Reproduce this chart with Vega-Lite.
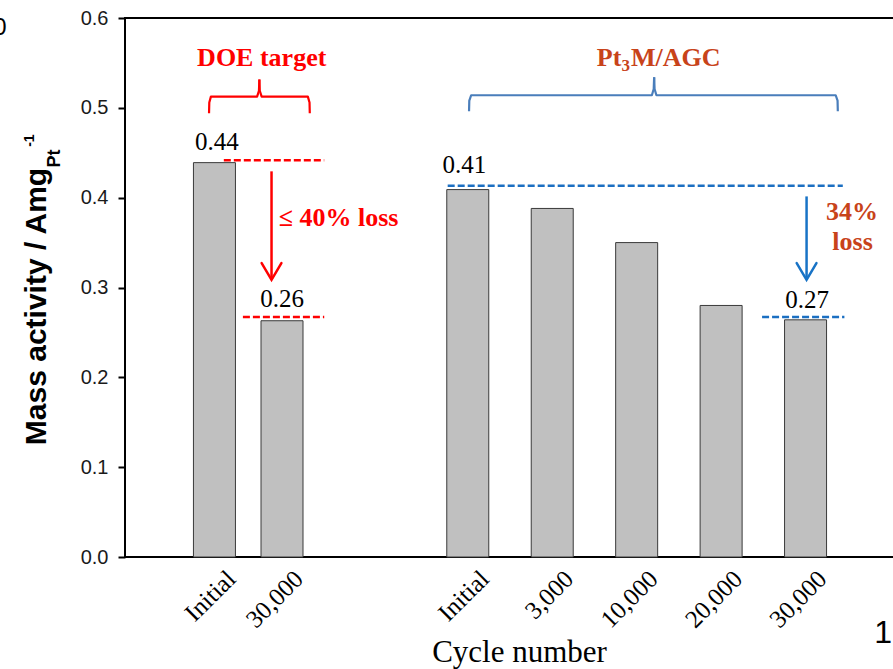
{
  "$schema": "https://vega.github.io/schema/vega-lite/v6.json",
  "autosize": {"type": "none"},
  "padding": {"left": 125, "top": 18, "right": 0, "bottom": 112},
  "width": 770,
  "height": 539,
  "background": "white",
  "config": {
    "view": {"stroke": "black", "strokeWidth": 2},
    "text": {"font": "Liberation Serif"}
  },
  "datasets": {
    "bars": [
      {"group": "DOE", "cycle": "Initial", "slot": 1, "value": 0.439},
      {"group": "DOE", "cycle": "30,000", "slot": 1.8, "value": 0.263},
      {"group": "Pt3M/AGC", "cycle": "Initial", "slot": 4, "value": 0.409},
      {"group": "Pt3M/AGC", "cycle": "3,000", "slot": 5, "value": 0.388},
      {"group": "Pt3M/AGC", "cycle": "10,000", "slot": 6, "value": 0.35},
      {"group": "Pt3M/AGC", "cycle": "20,000", "slot": 7, "value": 0.28},
      {"group": "Pt3M/AGC", "cycle": "30,000", "slot": 8, "value": 0.264}
    ],
    "valueLabels": [
      {"text": "0.44", "x": 1.03, "y": 0.4535},
      {"text": "0.26", "x": 1.8, "y": 0.2782},
      {"text": "0.41", "x": 3.96, "y": 0.4275},
      {"text": "0.27", "x": 8.02, "y": 0.2771}
    ],
    "dashes": [
      {"group": "DOE", "x": 1.111, "x2": 2.3, "y": 0.4416},
      {"group": "DOE", "x": 1.337, "x2": 2.3, "y": 0.2671},
      {"group": "Pt", "x": 3.762, "x2": 8.441, "y": 0.4134},
      {"group": "Pt", "x": 7.485, "x2": 8.46, "y": 0.2671}
    ],
    "shafts": [
      {"group": "DOE", "x": 1.676, "y": 0.4293, "y2": 0.309},
      {"group": "Pt", "x": 8.012, "y": 0.4014, "y2": 0.309}
    ],
    "heads": [
      {"group": "DOE", "i": 1, "x": 1.559, "y": 0.3272},
      {"group": "DOE", "i": 2, "x": 1.676, "y": 0.3086},
      {"group": "DOE", "i": 3, "x": 1.793, "y": 0.3272},
      {"group": "Pt", "i": 1, "x": 7.895, "y": 0.3272},
      {"group": "Pt", "i": 2, "x": 8.012, "y": 0.3086},
      {"group": "Pt", "i": 3, "x": 8.129, "y": 0.3272}
    ],
    "brackets": [
      {"group": "DOE", "part": "DOE-L", "i": 1, "x": 0.936, "y": 0.494},
      {"group": "DOE", "part": "DOE-L", "i": 2, "x": 0.939, "y": 0.506},
      {"group": "DOE", "part": "DOE-L", "i": 3, "x": 0.958, "y": 0.5125},
      {"group": "DOE", "part": "DOE-L", "i": 4, "x": 1.505, "y": 0.5125},
      {"group": "DOE", "part": "DOE-L", "i": 5, "x": 1.527, "y": 0.519},
      {"group": "DOE", "part": "DOE-L", "i": 6, "x": 1.532, "y": 0.5315},
      {"group": "DOE", "part": "DOE-R", "i": 1, "x": 1.532, "y": 0.5315},
      {"group": "DOE", "part": "DOE-R", "i": 2, "x": 1.537, "y": 0.519},
      {"group": "DOE", "part": "DOE-R", "i": 3, "x": 1.559, "y": 0.5125},
      {"group": "DOE", "part": "DOE-R", "i": 4, "x": 2.106, "y": 0.5125},
      {"group": "DOE", "part": "DOE-R", "i": 5, "x": 2.126, "y": 0.506},
      {"group": "DOE", "part": "DOE-R", "i": 6, "x": 2.129, "y": 0.494},
      {"group": "Pt", "part": "Pt-L", "i": 1, "x": 4.015, "y": 0.4962},
      {"group": "Pt", "part": "Pt-L", "i": 2, "x": 4.018, "y": 0.508},
      {"group": "Pt", "part": "Pt-L", "i": 3, "x": 4.04, "y": 0.514},
      {"group": "Pt", "part": "Pt-L", "i": 4, "x": 6.18, "y": 0.514},
      {"group": "Pt", "part": "Pt-L", "i": 5, "x": 6.202, "y": 0.521},
      {"group": "Pt", "part": "Pt-L", "i": 6, "x": 6.207, "y": 0.534},
      {"group": "Pt", "part": "Pt-R", "i": 1, "x": 6.207, "y": 0.534},
      {"group": "Pt", "part": "Pt-R", "i": 2, "x": 6.212, "y": 0.521},
      {"group": "Pt", "part": "Pt-R", "i": 3, "x": 6.234, "y": 0.514},
      {"group": "Pt", "part": "Pt-R", "i": 4, "x": 8.357, "y": 0.514},
      {"group": "Pt", "part": "Pt-R", "i": 5, "x": 8.379, "y": 0.508},
      {"group": "Pt", "part": "Pt-R", "i": 6, "x": 8.382, "y": 0.4962}
    ],
    "doeNotes": [
      {"text": "DOE target", "x": 1.56, "y": 0.5463},
      {"text": "≤ 40% loss", "x": 2.47, "y": 0.3688}
    ],
    "ptNotes": [
      {"text": "Pt", "x": 5.673, "y": 0.5463},
      {"text": "M/AGC", "x": 6.462, "y": 0.5463},
      {"text": "34%", "x": 8.55, "y": 0.3755},
      {"text": "loss", "x": 8.557, "y": 0.342}
    ],
    "ptSub": [
      {"text": "3", "x": 5.871, "y": 0.5415}
    ],
    "titleSub": [
      {"text": "Pt", "x": -0.83, "y": 0.4435}
    ],
    "titleSup": [
      {"text": "-1", "x": -1.14, "y": 0.4635}
    ],
    "pageNumber": [
      {"text": "1", "x": 8.92, "y": -0.0955}
    ],
    "edgeText": [
      {"text": "0", "x": -1.54, "y": 0.5816}
    ]
  },
  "layer": [
    {
      "data": {"name": "bars"},
      "mark": {"type": "bar", "size": 42, "fill": "#c0c0c0", "stroke": "#3a3a3a", "strokeWidth": 1},
      "encoding": {
        "x": {
          "field": "slot", "type": "quantitative",
          "scale": {"domain": [0, 9], "nice": false, "zero": false},
          "axis": {
            "values": [1, 1.8, 4, 5, 6, 7, 8],
            "labelExpr": "datum.value == 1 || datum.value == 4 ? 'Initial' : datum.value == 5 ? '3,000' : datum.value == 6 ? '10,000' : datum.value == 7 ? '20,000' : '30,000'",
            "labelAngle": -45,
            "labelFont": "Liberation Serif",
            "labelFontSize": 25,
            "labelColor": "black",
            "labelPadding": 9,
            "labelOffset": 8,
            "ticks": false,
            "domain": false,
            "grid": false,
            "title": "Cycle number",
            "titleFont": "Liberation Serif",
            "titleFontSize": 31,
            "titleFontWeight": "normal",
            "titleColor": "black",
            "titleX": 394,
            "titleY": 104,
            "titleBaseline": "alphabetic",
            "titleAnchor": "start",
            "titleAlign": "center"
          }
        },
        "y": {
          "field": "value", "type": "quantitative",
          "scale": {"domain": [0, 0.6], "nice": false, "zero": true},
          "axis": {
            "values": [0, 0.1, 0.2, 0.3, 0.4, 0.5, 0.6],
            "format": ".1f",
            "labelFont": "Liberation Sans",
            "labelFontSize": 20,
            "labelColor": "#1a1a1a",
            "labelPadding": 10,
            "tickSize": 7,
            "tickWidth": 2,
            "tickColor": "black",
            "domain": false,
            "grid": false,
            "title": "Mass activity / Amg",
            "titleFont": "Liberation Sans",
            "titleFontSize": 30,
            "titleFontWeight": "bold",
            "titleColor": "black",
            "titleAngle": 270,
            "titleX": -80,
            "titleY": 288,
            "titleAlign": "center",
            "titleAnchor": "start",
            "titleBaseline": "alphabetic"
          }
        }
      }
    },
    {
      "data": {"name": "dashes"},
      "mark": {"type": "rule", "strokeWidth": 2.5, "strokeDash": [7, 3]},
      "encoding": {
        "x": {"field": "x", "type": "quantitative", "scale": {"domain": [0, 9]}},
        "x2": {"field": "x2"},
        "y": {"field": "y", "type": "quantitative", "scale": {"domain": [0, 0.6]}},
        "color": {"condition": {"test": "datum.group === 'DOE'", "value": "#ff0000"}, "value": "#1b6fc2"}
      }
    },
    {
      "data": {"name": "shafts"},
      "mark": {"type": "rule", "strokeWidth": 2.5},
      "encoding": {
        "x": {"field": "x", "type": "quantitative", "scale": {"domain": [0, 9]}},
        "y": {"field": "y", "type": "quantitative", "scale": {"domain": [0, 0.6]}},
        "y2": {"field": "y2"},
        "color": {"condition": {"test": "datum.group === 'DOE'", "value": "#ff0000"}, "value": "#1873c6"}
      }
    },
    {
      "data": {"name": "heads"},
      "mark": {"type": "line", "strokeWidth": 2.5, "strokeCap": "round", "strokeJoin": "miter"},
      "encoding": {
        "x": {"field": "x", "type": "quantitative", "scale": {"domain": [0, 9]}},
        "y": {"field": "y", "type": "quantitative", "scale": {"domain": [0, 0.6]}},
        "detail": {"field": "group"},
        "order": {"field": "i"},
        "color": {"condition": {"test": "datum.group === 'DOE'", "value": "#ff0000"}, "value": "#1873c6"}
      }
    },
    {
      "data": {"name": "brackets"},
      "mark": {"type": "line", "strokeWidth": 2.2, "strokeJoin": "round"},
      "encoding": {
        "x": {"field": "x", "type": "quantitative", "scale": {"domain": [0, 9]}},
        "y": {"field": "y", "type": "quantitative", "scale": {"domain": [0, 0.6]}},
        "detail": {"field": "part"},
        "order": {"field": "i"},
        "color": {"condition": {"test": "datum.group === 'DOE'", "value": "#ff0000"}, "value": "#4a7ebb"}
      }
    },
    {
      "data": {"name": "valueLabels"},
      "mark": {"type": "text", "font": "Liberation Serif", "fontSize": 25, "color": "black", "align": "center", "baseline": "alphabetic"},
      "encoding": {
        "x": {"field": "x", "type": "quantitative", "scale": {"domain": [0, 9]}},
        "y": {"field": "y", "type": "quantitative", "scale": {"domain": [0, 0.6]}},
        "text": {"field": "text"}
      }
    },
    {
      "data": {"name": "doeNotes"},
      "mark": {"type": "text", "font": "Liberation Serif", "fontSize": 26, "fontWeight": "bold", "color": "#ff0000", "align": "center", "baseline": "alphabetic"},
      "encoding": {
        "x": {"field": "x", "type": "quantitative", "scale": {"domain": [0, 9]}},
        "y": {"field": "y", "type": "quantitative", "scale": {"domain": [0, 0.6]}},
        "text": {"field": "text"}
      }
    },
    {
      "data": {"name": "ptNotes"},
      "mark": {"type": "text", "font": "Liberation Serif", "fontSize": 26, "fontWeight": "bold", "color": "#c8431a", "align": "center", "baseline": "alphabetic"},
      "encoding": {
        "x": {"field": "x", "type": "quantitative", "scale": {"domain": [0, 9]}},
        "y": {"field": "y", "type": "quantitative", "scale": {"domain": [0, 0.6]}},
        "text": {"field": "text"}
      }
    },
    {
      "data": {"name": "ptSub"},
      "mark": {"type": "text", "font": "Liberation Serif", "fontSize": 17, "fontWeight": "bold", "color": "#c8431a", "align": "center", "baseline": "alphabetic"},
      "encoding": {
        "x": {"field": "x", "type": "quantitative", "scale": {"domain": [0, 9]}},
        "y": {"field": "y", "type": "quantitative", "scale": {"domain": [0, 0.6]}},
        "text": {"field": "text"}
      }
    },
    {
      "data": {"name": "titleSub"},
      "mark": {"type": "text", "font": "Liberation Sans", "fontSize": 18, "fontWeight": "bold", "color": "black", "align": "center", "baseline": "alphabetic", "angle": 270},
      "encoding": {
        "x": {"field": "x", "type": "quantitative", "scale": {"domain": [0, 9]}},
        "y": {"field": "y", "type": "quantitative", "scale": {"domain": [0, 0.6]}},
        "text": {"field": "text"}
      }
    },
    {
      "data": {"name": "titleSup"},
      "mark": {"type": "text", "font": "Liberation Sans", "fontSize": 14, "fontWeight": "bold", "color": "black", "align": "center", "baseline": "alphabetic", "angle": 270},
      "encoding": {
        "x": {"field": "x", "type": "quantitative", "scale": {"domain": [0, 9]}},
        "y": {"field": "y", "type": "quantitative", "scale": {"domain": [0, 0.6]}},
        "text": {"field": "text"}
      }
    },
    {
      "data": {"name": "pageNumber"},
      "mark": {"type": "text", "font": "Liberation Sans", "fontSize": 32, "color": "black", "align": "center", "baseline": "alphabetic"},
      "encoding": {
        "x": {"field": "x", "type": "quantitative", "scale": {"domain": [0, 9]}},
        "y": {"field": "y", "type": "quantitative", "scale": {"domain": [0, 0.6]}},
        "text": {"field": "text"}
      }
    },
    {
      "data": {"name": "edgeText"},
      "mark": {"type": "text", "font": "Liberation Sans", "fontSize": 24, "color": "black", "align": "center", "baseline": "alphabetic"},
      "encoding": {
        "x": {"field": "x", "type": "quantitative", "scale": {"domain": [0, 9]}},
        "y": {"field": "y", "type": "quantitative", "scale": {"domain": [0, 0.6]}},
        "text": {"field": "text"}
      }
    }
  ]
}
